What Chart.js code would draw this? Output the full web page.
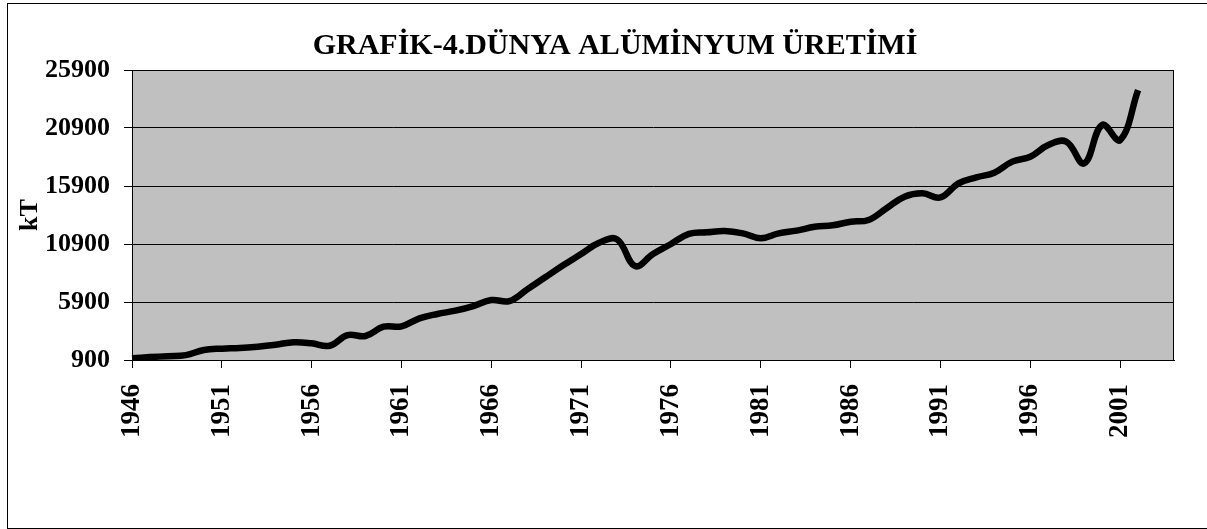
<!DOCTYPE html>
<html>
<head>
<meta charset="utf-8">
<script src="https://cdn.jsdelivr.net/npm/chart.js@4.4.1/dist/chart.umd.min.js"></script>
<style>
  html, body { margin: 0; padding: 0; background: #fff; overflow: hidden; }
  #wrap { position: relative; width: 1207px; height: 529px; }
  #frame { position: absolute; left: 7px; top: 3px; width: 1300px; height: 526px; border: 1px solid #000; box-sizing: border-box; }
  #chart { position: absolute; left: 0; top: 0; }
</style>
</head>
<body>
<div id="wrap">
  <div id="frame"></div>
  <canvas id="chart" width="1207" height="529"></canvas>
</div>
<script>
const chartTitle = 'GRAFİK-4.DÜNYA ALÜMİNYUM ÜRETİMİ';
const yTitle = 'kT';

// years on the category axis (axis runs to 2004, data stops at 2002)
const years = [];
for (let y = 1946; y <= 2004; y++) years.push(String(y));

// world aluminium production, kT
const production = [
    1050, 1150, 1230, 1320, 1760, 1880, 1930, 2050, 2220, 2430,   // 1946-1955
    2340, 2130, 3050, 2970, 3770, 3800, 4490, 4870, 5150, 5550,   // 1956-1965
    6070, 5980, 6990, 8030, 9060, 10040, 11010, 11300, 9000, 10040, // 1966-1975
    10900, 11780, 11910, 12020, 11820, 11390, 11820, 12050, 12390, 12510, // 1976-1985
    12820, 12970, 13980, 14980, 15270, 14920, 16130, 16650, 17050, 18000, // 1986-1995
    18420, 19430, 19720, 17850, 21160, 19860, 24170,               // 1996-2002
    null, null                                                      // 2003-2004
];

const yTicks = [900, 5900, 10900, 15900, 20900, 25900];

const serif = '"Liberation Serif", "Times New Roman", serif';

// grey plot area with black frame, plus the chart title (centred like the original, not on the canvas)
const plotBg = {
    id: 'plotBg',
    beforeDraw(chart) {
        const { ctx, chartArea: a } = chart;
        ctx.save();
        ctx.fillStyle = '#c0c0c0';
        ctx.fillRect(a.left, a.top, a.right - a.left, a.bottom - a.top);
        ctx.restore();
    },
    afterDraw(chart) {
        const { ctx, chartArea: a } = chart;
        ctx.save();
        ctx.strokeStyle = '#000';
        ctx.lineWidth = 1;
        ctx.strokeRect(a.left + 0.5, a.top + 0.5, a.right - a.left - 1, a.bottom - a.top);
        ctx.fillStyle = '#000';
        ctx.font = 'bold 30px ' + serif;
        ctx.textAlign = 'center';
        ctx.textBaseline = 'middle';
        ctx.fillText(chartTitle, 615, 46);
        ctx.restore();
    }
};

new Chart(document.getElementById('chart').getContext('2d'), {
    type: 'line',
    data: {
        labels: years,
        datasets: [{
            data: production,
            borderColor: '#000',
            borderWidth: 6.5,
            tension: 0.4,
            pointRadius: 0,
            fill: false
        }]
    },
    options: {
        responsive: false,
        animation: false,
        layout: { padding: { left: 8, right: 33, top: 70, bottom: 0 } },
        plugins: {
            legend: { display: false },
            tooltip: { enabled: false },
            title: { display: false }
        },
        scales: {
            x: {
                offset: false,
                grid: {
                    drawOnChartArea: false,
                    drawTicks: true,
                    tickLength: 8,
                    color: (c) => (c.index % 5 === 0 ? '#000' : 'rgba(0,0,0,0)')
                },
                border: { display: true, color: '#000' },
                ticks: {
                    autoSkip: false,
                    minRotation: 90,
                    maxRotation: 90,
                    padding: 16,
                    color: '#000',
                    font: { family: serif, size: 27, weight: 'bold' },
                    callback: function (val, i) {
                        return i % 5 === 0 ? this.getLabelForValue(val) : '';
                    }
                },
                afterFit: (s) => {
                    s.height = 169;
                    s.paddingLeft = 0;
                    s.paddingRight = 0;
                }
            },
            y: {
                min: 900,
                max: 25900,
                afterBuildTicks: (s) => { s.ticks = yTicks.map(v => ({ value: v })); },
                grid: { color: '#000', tickLength: 8 },
                border: { display: true, color: '#000' },
                ticks: {
                    padding: 14,
                    color: '#000',
                    font: { family: serif, size: 26, weight: 'bold' },
                    callback: (v) => String(v)
                },
                title: {
                    display: true,
                    text: yTitle,
                    color: '#000',
                    font: { family: serif, size: 26, weight: 'bold' },
                    padding: { top: 7, bottom: 0 }
                },
                afterFit: (s) => { s.width = 124; }
            }
        }
    },
    plugins: [plotBg]
});
</script>
</body>
</html>
